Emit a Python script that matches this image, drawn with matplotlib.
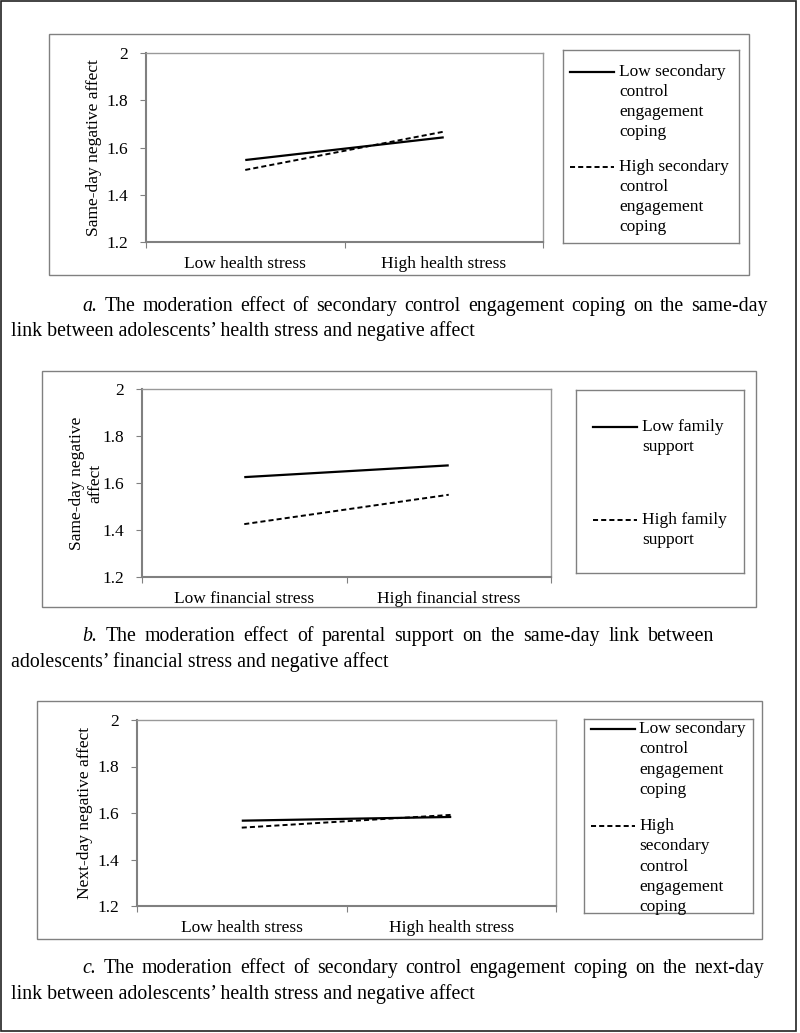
import matplotlib
matplotlib.use('Agg')
import matplotlib.pyplot as plt
import matplotlib.patches as patches
from matplotlib.ticker import FormatStrFormatter

plt.rcParams['font.family'] = ['Liberation Serif', 'DejaVu Serif']

# ---- data ----
health_levels = ['Low health stress', 'High health stress']
financial_levels = ['Low financial stress', 'High financial stress']

a_low_coping = [1.547, 1.643]
a_high_coping = [1.505, 1.667]
b_low_support = [1.625, 1.675]
b_high_support = [1.425, 1.550]
c_low_coping = [1.567, 1.583]
c_high_coping = [1.537, 1.592]

coping_labels = ['Low secondary\ncontrol\nengagement\ncoping',
                 'High secondary\ncontrol\nengagement\ncoping']
coping_labels_c = ['Low secondary\ncontrol\nengagement\ncoping',
                   'High\nsecondary\ncontrol\nengagement\ncoping']
support_labels = ['Low family\nsupport', 'High family\nsupport']

y_ticks = [1.2, 1.4, 1.6, 1.8, 2.0]

captions = [
    ('a.', 'The moderation effect of secondary control engagement coping on the same-day',
     'link between adolescents\u2019 health stress and negative affect'),
    ('b.', 'The moderation effect of parental support on the same-day link between',
     'adolescents\u2019 financial stress and negative affect'),
    ('c.', 'The moderation effect of secondary control engagement coping on the next-day',
     'link between adolescents\u2019 health stress and negative affect'),
]

W, H = 800, 1033
fig = plt.figure(figsize=(W / 100, H / 100), dpi=100)
GRAY = '#808080'
FS = 12.5


def rect(x0, y0, x1, y1):
    return [x0 / W, 1 - y1 / H, (x1 - x0) / W, (y1 - y0) / H]


def box(x0, y0, x1, y1, color=GRAY, lw=1.0):
    fig.patches.append(patches.Rectangle((x0 / W, 1 - y1 / H), (x1 - x0) / W, (y1 - y0) / H,
                                         transform=fig.transFigure, fill=False,
                                         edgecolor=color, linewidth=lw))


def panel(pbox, plot, leg, levels, low, high, labels, ylabel, ylab_x, key, text_x, rows, pitch):
    box(*pbox)
    ax = fig.add_axes(rect(*plot))
    cats = list(range(len(levels)))
    ax.plot(cats, low, color='black', lw=1.6, solid_capstyle='butt')
    ax.plot(cats, high, color='black', lw=1.4, linestyle=(0, (2.6, 1.6)))
    ax.set_xlim(-0.5, len(levels) - 0.5)
    ax.set_ylim(1.2, 2.0)
    ax.set_yticks(y_ticks)
    ax.yaxis.set_major_formatter(FormatStrFormatter('%g'))
    ax.set_xticks([c - 0.5 for c in cats] + [cats[-1] + 0.5])
    ax.set_xticklabels([])
    ax.set_xticks(cats, minor=True)
    ax.set_xticklabels(levels, minor=True)
    ax.tick_params(axis='x', which='major', length=4, color=GRAY, direction='out')
    ax.tick_params(axis='x', which='minor', length=0, pad=10, labelsize=FS)
    ax.tick_params(axis='y', length=4, color=GRAY, direction='out', pad=9, labelsize=FS)
    for s in ['left', 'bottom']:
        ax.spines[s].set_color(GRAY)
        ax.spines[s].set_linewidth(1.5)
    for s in ['top', 'right']:
        ax.spines[s].set_color('#999999')
        ax.spines[s].set_linewidth(1.0)
    ax.set_ylabel(ylabel, fontsize=FS, linespacing=1.2)
    ax.yaxis.set_label_coords((ylab_x - plot[0]) / (plot[2] - plot[0]), 0.5)

    # legend box
    lax = fig.add_axes(rect(*leg))
    lw_, lh_ = leg[2] - leg[0], leg[3] - leg[1]
    lax.set_xlim(0, lw_)
    lax.set_ylim(lh_, 0)
    lax.set_xticks([])
    lax.set_yticks([])
    for s in lax.spines.values():
        s.set_color(GRAY)
        s.set_linewidth(1.0)
    styles = [dict(lw=1.6), dict(lw=1.4, linestyle=(0, (2.6, 1.6)))]
    for lab, y0, st in zip(labels, rows, styles):
        yy = y0 - leg[1]
        lax.plot([key[0] - leg[0], key[1] - leg[0]], [yy, yy], color='black', **st)
        for i, line in enumerate(lab.split('\n')):
            lax.text(text_x - leg[0], yy + i * pitch, line, fontsize=FS,
                     va='center', ha='left', clip_on=False)
    return ax


panel((49, 34, 749, 275), (146, 53, 543, 242), (563, 50, 739, 243),
      health_levels, a_low_coping, a_high_coping, coping_labels,
      'Same-day negative affect', 102, (570, 614), 619, (72, 167), 20)

panel((42, 371, 756, 607), (142, 389, 551, 577), (576, 390, 744, 573),
      financial_levels, b_low_support, b_high_support, support_labels,
      'Same-day negative\naffect', 103, (593, 637), 642, (427, 520), 20.5)

panel((37, 701, 762, 939), (137, 720, 556, 906), (584, 719, 753, 913),
      health_levels, c_low_coping, c_high_coping, coping_labels_c,
      'Next-day negative affect', 93, (591, 635), 639, (729, 826), 20.3)

# outer border
box(1, 1, 796, 1031, color='#222222', lw=1.2)

# captions: first line slightly spread out, as in the source document
fig.canvas.draw()
renderer = fig.canvas.get_renderer()
cap_base = [(311, 336), (641, 667), (973, 999)]
line_end = [768, 714, 764]
CFS = 14.3
for (tag, rest, second), (y1, y2), x_end in zip(captions, cap_base, line_end):
    words = [tag] + rest.split(' ')
    texts = []
    widths = []
    for k, w in enumerate(words):
        t = fig.text(0, 1 - y1 / H, w, fontsize=CFS, va='baseline', ha='left',
                     style='italic' if k == 0 else 'normal')
        texts.append(t)
        widths.append(t.get_window_extent(renderer).width)
    gap = (x_end - 82 - sum(widths)) / (len(words) - 1)
    x = 82
    for t, wd in zip(texts, widths):
        t.set_x(x / W)
        x += wd + gap
    fig.text(11 / W, 1 - y2 / H, second, fontsize=CFS, va='baseline', ha='left')

fig.savefig('out.png', dpi=100)
